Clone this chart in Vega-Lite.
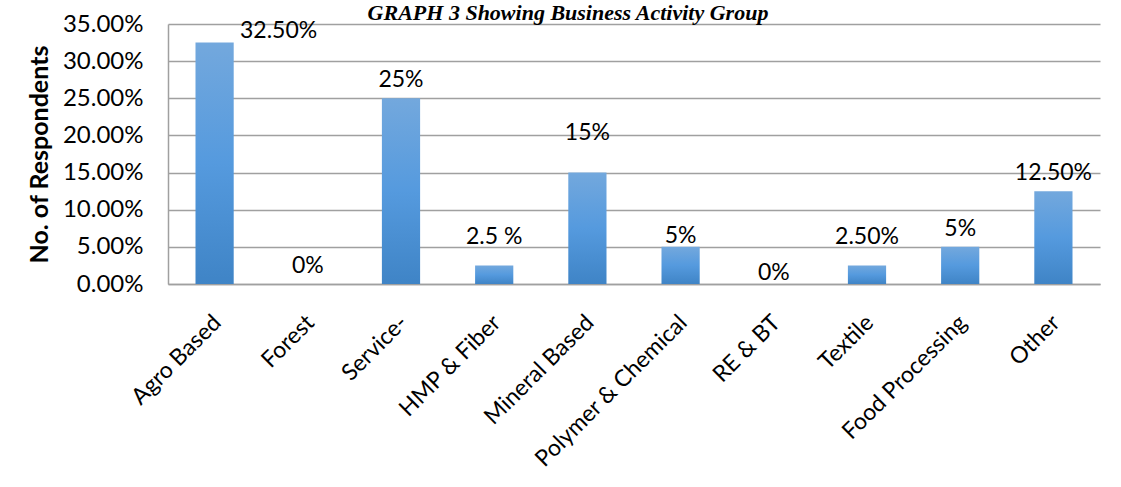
{
  "$schema": "https://vega.github.io/schema/vega-lite/v6.json",
  "autosize": "none",
  "width": 932,
  "height": 260,
  "padding": {"left": 168, "top": 24, "right": 21, "bottom": 203},
  "background": "white",
  "title": {
    "text": "GRAPH 3 Showing Business Activity Group",
    "font": "Liberation Serif",
    "fontSize": 22,
    "fontWeight": "bold",
    "fontStyle": "italic",
    "color": "#000000",
    "baseline": "alphabetic",
    "offset": 0,
    "dy": 30,
    "dx": -66,
    "anchor": "middle"
  },
  "data": {
    "values": [
      {"category": "Agro Based", "value": 0.325, "label": "32.50%"},
      {"category": "Forest", "value": 0.0, "label": "0%"},
      {"category": "Service-", "value": 0.25, "label": "25%"},
      {"category": "HMP & Fiber", "value": 0.025, "label": "2.5 %"},
      {"category": "Mineral Based", "value": 0.15, "label": "15%"},
      {"category": "Polymer & Chemical", "value": 0.05, "label": "5%"},
      {"category": "RE & BT", "value": 0.0, "label": "0%"},
      {"category": "Textile", "value": 0.025, "label": "2.50%"},
      {"category": "Food Processing", "value": 0.05, "label": "5%"},
      {"category": "Other", "value": 0.125, "label": "12.50%"}
    ]
  },
  "encoding": {
    "x": {
      "field": "category",
      "type": "nominal",
      "sort": null,
      "scale": {"paddingInner": 0.59, "paddingOuter": 0.295},
      "axis": {
        "title": null,
        "labelAngle": -45,
        "labelAlign": "right",
        "labelBaseline": "top",
        "labelPadding": 27,
        "labelOffset": -5,
        "labelFont": "Lato",
        "labelFontSize": 23,
        "labelColor": "#000000",
        "ticks": false,
        "domainColor": "#a0a0a0",
        "domainWidth": 1.5,
        "labelLimit": 400
      }
    },
    "y": {
      "field": "value",
      "type": "quantitative",
      "scale": {"domain": [0, 0.35], "nice": false},
      "axis": {
        "title": "No. of Respondents",
        "titleFont": "Lato",
        "titleFontSize": 25,
        "titleFontWeight": "bold",
        "titleColor": "#000000",
        "titlePadding": 10,
        "format": ".2%",
        "values": [0, 0.05, 0.1, 0.15, 0.2, 0.25, 0.3, 0.35],
        "labelFont": "Lato",
        "labelFontSize": 24,
        "labelColor": "#000000",
        "labelPadding": 25,
        "ticks": false,
        "grid": true,
        "gridColor": "#a0a0a0",
        "gridWidth": 1.5,
        "domainColor": "#a0a0a0",
        "domainWidth": 1.5
      }
    }
  },
  "layer": [
    {
      "mark": {
        "type": "bar",
        "color": {
          "gradient": "linear",
          "x1": 0, "y1": 0, "x2": 0, "y2": 1,
          "stops": [
            {"offset": 0, "color": "#73a8dd"},
            {"offset": 0.5, "color": "#559ade"},
            {"offset": 1, "color": "#3f84c6"}
          ]
        }
      }
    },
    {
      "transform": [{"filter": "datum.category === 'Forest' || datum.category === 'Service-' || datum.category === 'Food Processing' || datum.category === 'Other'"}],
      "mark": {"type": "text", "font": "Lato", "fontSize": 23, "color": "#000000", "baseline": "middle", "dy": -18},
      "encoding": {"text": {"field": "label"}}
    },
    {
      "transform": [{"filter": "datum.category === 'Polymer & Chemical' || datum.category === 'RE & BT'"}],
      "mark": {"type": "text", "font": "Lato", "fontSize": 23, "color": "#000000", "baseline": "middle", "dy": -11},
      "encoding": {"text": {"field": "label"}}
    },
    {
      "transform": [{"filter": "datum.category === 'HMP & Fiber' || datum.category === 'Textile'"}],
      "mark": {"type": "text", "font": "Lato", "fontSize": 23, "color": "#000000", "baseline": "middle", "dy": -28},
      "encoding": {"text": {"field": "label"}}
    },
    {
      "transform": [{"filter": "datum.category === 'Mineral Based'"}],
      "mark": {"type": "text", "font": "Lato", "fontSize": 23, "color": "#000000", "baseline": "middle", "dy": -40},
      "encoding": {"text": {"field": "label"}}
    },
    {
      "transform": [{"filter": "datum.category === 'Agro Based'"}],
      "mark": {"type": "text", "font": "Lato", "fontSize": 23, "color": "#000000", "baseline": "middle", "dy": -12, "dx": 64},
      "encoding": {"text": {"field": "label"}}
    }
  ],
  "config": {"view": {"stroke": null}}
}
